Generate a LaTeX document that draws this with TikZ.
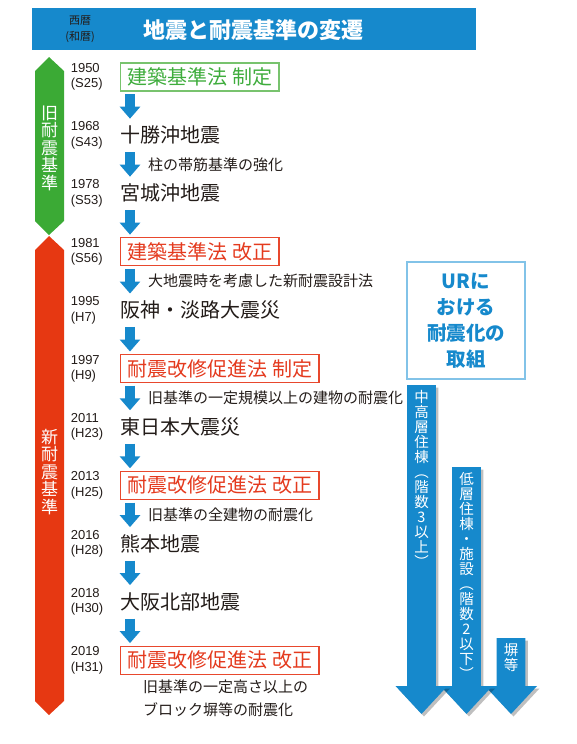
\documentclass[tikz,border=0pt]{standalone}
\usepackage{fontspec}
\setmainfont{Noto Sans CJK JP}
\newfontfamily\yrfont{Liberation Sans}
\usetikzlibrary{arrows.meta,positioning}
\definecolor{urBlue}{RGB}{22,137,204}
\definecolor{oldGreen}{RGB}{59,170,53}
\definecolor{newRed}{RGB}{230,56,18}
\definecolor{boxGreen}{RGB}{120,195,110}
\definecolor{txtGreen}{RGB}{62,172,60}
\definecolor{boxRed}{RGB}{232,72,45}
\definecolor{txtRed}{RGB}{228,58,30}
\definecolor{urLine}{RGB}{130,195,232}
\definecolor{ink}{RGB}{35,28,25}
\tikzset{
  evt/.style={anchor=west,inner sep=0pt,minimum height=28pt,
              font=\fontsize{20}{22}\selectfont,text=ink},
  law/.style={evt,draw,line width=1.2pt,inner xsep=7pt},
  lawG/.style={law,draw=boxGreen,text=txtGreen},
  lawR/.style={law,draw=boxRed,text=txtRed},
  yr/.style={font=\yrfont\fontsize{13}{15.5}\selectfont,text=ink,align=left,
             text width=36pt,inner sep=0pt},
  note/.style={font=\fontsize{15}{23}\selectfont,text=ink,inner sep=0pt,anchor=west},
  dn/.style={draw=urBlue,line width=10pt,-{Triangle[length=12pt,width=20pt]},
             shorten <=2.5pt,shorten >=2.5pt},
  era/.style={text=white,font=\fontsize{17}{17.5}\selectfont,align=center,inner sep=0pt},
  vlab/.style={text=white,font=\fontsize{14.5}{15}\selectfont,align=center,
               inner sep=0pt,anchor=north},
}
\begin{document}
\begin{tikzpicture}[x=1pt,y=-1pt,node distance=29.6pt]
  \useasboundingbox (0,0) rectangle (577,744);
  % --- header band ---
  \fill[urBlue] (32,8) rectangle (476,50);
  \node[font=\fontsize{11}{16}\selectfont,text=ink,align=center,inner sep=0pt]
    (hdrera) at (80,29) {西暦\\(和暦)};
  \node[text=white,font=\bfseries\fontsize{22}{24}\selectfont,inner sep=0pt]
    (title) at (253,30) {地震と耐震基準の変遷};
  % --- old / new standard bars ---
  \fill[oldGreen] (49,57) -- (64,71) -- (64,221) -- (49,235) -- (35,221) -- (35,71) -- cycle;
  \fill[newRed] (49,236) -- (64,250) -- (64,701) -- (49,715) -- (35,701) -- (35,250) -- cycle;
  \node[era] (oldlab) at (49.5,148) {旧\\耐\\震\\基\\準};
  \node[era] (newlab) at (49.5,472) {新\\耐\\震\\基\\準};
  % --- events (top to bottom) ---
  \node[lawG] (e1) at (120,77) {建築基準法 制定};
  \node[evt,below=of e1.south west,anchor=north west] (e2) {十勝沖地震};
  \node[evt,below=of e2.south west,anchor=north west] (e3) {宮城沖地震};
  \node[lawR,below=of e3.south west,anchor=north west] (e4) {建築基準法 改正};
  \node[evt,below=of e4.south west,anchor=north west] (e5) {阪神・淡路大震災};
  \node[lawR,below=of e5.south west,anchor=north west] (e6) {耐震改修促進法 制定};
  \node[evt,below=of e6.south west,anchor=north west] (e7) {東日本大震災};
  \node[lawR,below=of e7.south west,anchor=north west] (e8) {耐震改修促進法 改正};
  \node[evt,below=of e8.south west,anchor=north west] (e9) {熊本地震};
  \node[evt,below=of e9.south west,anchor=north west] (e10) {大阪北部地震};
  \node[lawR,below=of e10.south west,anchor=north west] (e11) {耐震改修促進法 改正};
  % --- years ---
  \foreach \e/\y/\w in {e1/1950/S25,e2/1968/S43,e3/1978/S53,e4/1981/S56,e5/1995/H7,
      e6/1997/H9,e7/2011/H23,e8/2013/H25,e9/2016/H28,e10/2018/H30,e11/2019/H31}
    \node[yr,left=13pt of \e.west] (y\e) {\y\\(\w)};
  % --- arrows between events ---
  \foreach \a/\b in {e1/e2,e3/e4,e5/e6,e7/e8,e9/e10,e10/e11}
    \draw[dn] ([xshift=10pt]\a.south west) -- ([xshift=10pt]\b.north west);
  \draw[dn] ([xshift=10pt]e2.south west) -- node[note,right=13pt] (n1) {柱の帯筋基準の強化}
    ([xshift=10pt]e3.north west);
  \draw[dn] ([xshift=10pt]e4.south west) -- node[note,right=13pt] (n2) {大地震時を考慮した新耐震設計法}
    ([xshift=10pt]e5.north west);
  \draw[dn] ([xshift=10pt]e6.south west) -- node[note,right=13pt] (n3) {旧基準の一定規模以上の建物の耐震化}
    ([xshift=10pt]e7.north west);
  \draw[dn] ([xshift=10pt]e8.south west) -- node[note,right=13pt] (n4) {旧基準の全建物の耐震化}
    ([xshift=10pt]e9.north west);
  \node[note,align=left,below right=5pt and 23pt of e11.south west] (n5)
    {旧基準の一定高さ以上の\\ブロック塀等の耐震化};
  % --- UR box and big arrows (right) ---
  \node[draw=urLine,line width=1.2pt,fill=white,minimum width=118pt,minimum height=117pt,
        inner sep=0pt,text=urBlue,align=center,font=\bfseries\fontsize{19.5}{26}\selectfont]
    (ur) at (466,320.5) {URに\\おける\\耐震化の\\取組};
  \foreach \cx/\yt in {511/638,466.5/467,421.5/385}{
    \fill[black,opacity=.25,shift={(2.5,2.5)}] (\cx-14.3,\yt) -- (\cx+14.3,\yt) -- (\cx+14.3,686)
      -- (\cx+26,686) -- (\cx,714) -- (\cx-26,686) -- (\cx-14.3,686) -- cycle;
    \fill[urBlue] (\cx-14.3,\yt) -- (\cx+14.3,\yt) -- (\cx+14.3,686)
      -- (\cx+26,686) -- (\cx,714) -- (\cx-26,686) -- (\cx-14.3,686) -- cycle;
  }
  \node[vlab] (mid) at (421.5,390)
    {中\\高\\層\\住\\棟\\︵\\階\\数\\3\\以\\上\\︶};
  \node[vlab] (low) at (466.5,472)
    {低\\層\\住\\棟\\・\\施\\設\\︵\\階\\数\\2\\以\\下\\︶};
  \node[vlab] (wall) at (511,643) {塀\\等};
\end{tikzpicture}
\end{document}
